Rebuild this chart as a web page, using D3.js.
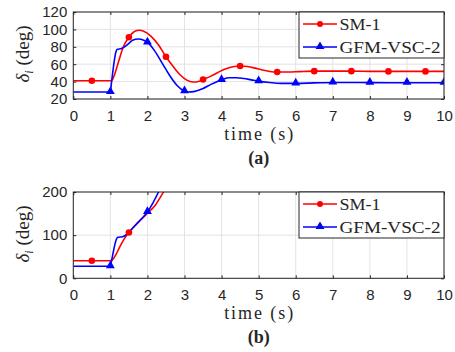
<!DOCTYPE html>
<html>
<head>
<meta charset="utf-8">
<script src="https://cdn.jsdelivr.net/npm/d3@7"></script>
<style>
  body { margin: 0; background: #fff; }
  svg { display: block; }
</style>
</head>
<body>
<svg id="chart"></svg>
<script>
// data: [time (s), delta (deg)]
const smA = [[0,41],[0.5,41],[1,41],[1.05,42],[1.2,60],[1.35,80],[1.5,91],[1.65,97.5],[1.78,99],[1.9,98],
  [2.1,92],[2.3,82],[2.5,68.6],[2.7,57],[2.9,47],[3.05,42],[3.23,39.5],[3.4,40.5],[3.5,42.5],[3.7,46],
  [3.9,50.5],[4.1,54.5],[4.3,57],[4.5,58],[4.7,57.3],[4.9,55.5],[5.1,53.3],[5.3,51.7],[5.5,51],[5.8,51],
  [6.1,51.5],[6.5,52],[7,52],[7.5,52],[8,51.8],[8.5,51.7],[9,51.7],[9.5,51.7],[10,51.7]];
const vscA = [[0,28],[1,28],[1.02,35],[1.15,74],[1.18,77],[1.3,78],[1.4,80.5],[1.5,84],[1.6,87.5],[1.75,89],
  [1.9,87.5],[2,85],[2.2,75],[2.4,61],[2.6,47],[2.8,35.5],[3,29],[3.1,28],[3.25,28.5],[3.5,32],[3.7,36.5],
  [3.9,40.5],[4,42],[4.2,44.5],[4.4,44.5],[4.6,43.5],[4.8,42],[5,40.5],[5.3,39],[5.6,38],[6,38],[6.5,38.5],
  [7,39],[7.5,39],[8,38.8],[9,38.7],[10,38.7]];
const smB = [[0,40.6],[0.5,40.6],[1,40.6],[1.05,42],[1.15,55],[1.25,72],[1.35,88],[1.5,106],[1.7,126],
  [1.9,142],[2,151],[2.2,168],[2.35,188],[2.45,203],[2.55,222]];
const vscB = [[0,28],[1,28],[1.03,40],[1.17,92],[1.2,95],[1.33,96.5],[1.45,103],[1.6,116],[1.8,134],
  [2,154],[2.15,175],[2.3,200],[2.4,218]];

const smMarkerTimes = [0.5,1.5,2.5,3.5,4.5,5.5,6.5,7.5,8.5,9.5];
const vscMarkerTimes = [1,2,3,4,5,6,7,8,9,10];

const xTicks = [0,1,2,3,4,5,6,7,8,9,10];
const yTicksA = [20,40,60,80,100,120];
const yTicksB = [0,100,200];
const seriesNames = ["SM-1", "GFM-VSC-2"];
const seriesColors = ["#ff0000", "#0000ff"];

const W = 455, H = 352;
const sansFont = "'Liberation Sans', Arial, sans-serif";
const serifFont = "'Liberation Serif', 'DejaVu Serif', serif";
const axisColor = "#262626";

let svg = d3.select("#chart").attr("width", W).attr("height", H);
svg.append("rect").attr("width", W).attr("height", H).attr("fill", "#fff");

let x = d3.scaleLinear().domain([0, 10]).range([73.3, 444]);

function drawPanel(cfg) {
  let y = d3.scaleLinear().domain(cfg.yDomain).range([cfg.bottom, cfg.top]);
  let g = svg.append("g");
  let clipId = "clip-" + cfg.id;

  g.append("clipPath").attr("id", clipId)
    .append("rect")
    .attr("x", x.range()[0]).attr("y", cfg.top)
    .attr("width", x.range()[1] - x.range()[0])
    .attr("height", cfg.bottom - cfg.top);

  // grid
  g.selectAll(".gx").data(xTicks).enter().append("line")
    .attr("x1", d => x(d)).attr("x2", d => x(d))
    .attr("y1", cfg.top).attr("y2", cfg.bottom)
    .attr("stroke", "#e3e3e3").attr("stroke-width", 1);
  g.selectAll(".gy").data(cfg.yTicks).enter().append("line")
    .attr("x1", x.range()[0]).attr("x2", x.range()[1])
    .attr("y1", d => y(d)).attr("y2", d => y(d))
    .attr("stroke", "#e3e3e3").attr("stroke-width", 1);

  // lines
  let line = d3.line().x(d => x(d[0])).y(d => y(d[1])).curve(d3.curveMonotoneX);
  let plot = g.append("g").attr("clip-path", "url(#" + clipId + ")");
  cfg.series.forEach((s, i) => {
    plot.append("path").datum(s)
      .attr("d", line)
      .attr("fill", "none")
      .attr("stroke", seriesColors[i])
      .attr("stroke-width", 1.6);
  });

  // markers
  let smPts = cfg.series[0].filter(d => smMarkerTimes.includes(d[0]));
  let vscPts = cfg.series[1].filter(d => vscMarkerTimes.includes(d[0]));
  plot.selectAll(".m0").data(smPts).enter().append("circle")
    .attr("cx", d => x(d[0])).attr("cy", d => y(d[1]))
    .attr("r", 3.3).attr("fill", seriesColors[0]);
  let tri = d3.symbol().type(d3.symbolTriangle).size(34);
  plot.selectAll(".m1").data(vscPts).enter().append("path")
    .attr("d", tri)
    .attr("transform", d => "translate(" + x(d[0]) + "," + (y(d[1]) - 0.5) + ")")
    .attr("fill", seriesColors[1]);

  // box
  g.append("rect")
    .attr("x", x.range()[0]).attr("y", cfg.top)
    .attr("width", x.range()[1] - x.range()[0])
    .attr("height", cfg.bottom - cfg.top)
    .attr("fill", "none").attr("stroke", axisColor).attr("stroke-width", 1);

  // axes
  let xAxis = d3.axisBottom(x).tickValues(xTicks).tickSizeInner(-3).tickSizeOuter(0).tickPadding(11);
  let xg = g.append("g").attr("transform", "translate(0," + cfg.bottom + ")").call(xAxis);
  let xAxisTop = d3.axisTop(x).tickValues(xTicks).tickSizeInner(-3).tickSizeOuter(0).tickFormat("");
  let xgt = g.append("g").attr("transform", "translate(0," + cfg.top + ")").call(xAxisTop);
  let yAxis = d3.axisLeft(y).tickValues(cfg.yTicks).tickSizeInner(-3).tickSizeOuter(0).tickPadding(6);
  let yg = g.append("g").attr("transform", "translate(" + x.range()[0] + ",0)").call(yAxis);
  let yAxisR = d3.axisRight(y).tickValues(cfg.yTicks).tickSizeInner(-3).tickSizeOuter(0).tickFormat("");
  let ygr = g.append("g").attr("transform", "translate(" + x.range()[1] + ",0)").call(yAxisR);
  [xg, xgt, yg, ygr].forEach(a => {
    a.select(".domain").remove();
    a.selectAll("line").attr("stroke", axisColor);
    a.selectAll("text").attr("font-family", sansFont).attr("font-size", 15).attr("fill", axisColor);
  });

  // y label
  let yl = g.append("text")
    .attr("transform", "translate(" + 28.5 + "," + cfg.yLabelY + ") rotate(-90)")
    .attr("text-anchor", "middle")
    .attr("font-family", serifFont).attr("font-size", 19).attr("fill", axisColor);
  yl.append("tspan").attr("font-style", "italic").text("δ");
  yl.append("tspan").attr("font-style", "italic").attr("font-size", 12).attr("dy", 4).text("i");
  yl.append("tspan").attr("dy", -4).text(" (deg)");

  // x label and panel tag
  g.append("text")
    .attr("x", (x.range()[0] + x.range()[1]) / 2).attr("y", cfg.xLabelY)
    .attr("text-anchor", "middle")
    .attr("font-family", serifFont).attr("font-size", 18).attr("fill", axisColor)
    .attr("textLength", 69).attr("lengthAdjust", "spacing")
    .text("time (s)");
  g.append("text")
    .attr("x", (x.range()[0] + x.range()[1]) / 2).attr("y", cfg.tagY)
    .attr("text-anchor", "middle")
    .attr("font-family", serifFont).attr("font-size", 18).attr("font-weight", "bold").attr("fill", axisColor)
    .text(cfg.tag);

  // legend
  let lg = g.append("g");
  lg.append("rect")
    .attr("x", 299).attr("y", cfg.top)
    .attr("width", x.range()[1] - 299).attr("height", 46)
    .attr("fill", "#fff").attr("stroke", axisColor).attr("stroke-width", 1);
  let labelWidths = [41, 101];
  seriesNames.forEach((name, i) => {
    let ly = cfg.top + 12 + i * 23;
    lg.append("line")
      .attr("x1", 303).attr("x2", 337).attr("y1", ly).attr("y2", ly)
      .attr("stroke", seriesColors[i]).attr("stroke-width", 1.6);
    if (i === 0) {
      lg.append("circle").attr("cx", 320).attr("cy", ly).attr("r", 3).attr("fill", seriesColors[i]);
    } else {
      lg.append("path").attr("d", tri).attr("transform", "translate(320," + (ly - 0.5) + ")")
        .attr("fill", seriesColors[i]);
    }
    lg.append("text")
      .attr("x", 339.5).attr("y", ly + 5.5)
      .attr("font-family", serifFont).attr("font-size", 17).attr("fill", axisColor)
      .attr("textLength", labelWidths[i]).attr("lengthAdjust", "spacingAndGlyphs")
      .text(name);
  });
}

drawPanel({id: "a", top: 12, bottom: 99, yDomain: [20, 120], yTicks: yTicksA,
  series: [smA, vscA], yLabelY: 54, xLabelY: 139.5, tagY: 164, tag: "(a)"});
drawPanel({id: "b", top: 192, bottom: 278.3, yDomain: [0, 200], yTicks: yTicksB,
  series: [smB, vscB], yLabelY: 234, xLabelY: 319, tagY: 343, tag: "(b)"});
</script>
</body>
</html>
